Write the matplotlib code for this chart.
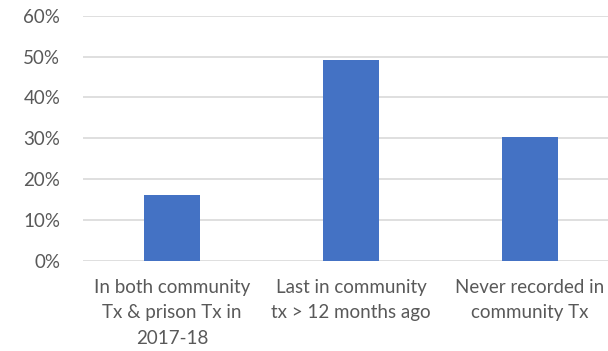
import matplotlib

matplotlib.use("Agg")
import matplotlib.pyplot as plt
from matplotlib.ticker import PercentFormatter

categories = [
    "In both community\nTx & prison Tx in\n2017-18",
    "Last in community\ntx > 12 months ago",
    "Never recorded in\ncommunity Tx",
]
shares = [16.1, 49.1, 30.3]
y_ticks = [0, 10, 20, 30, 40, 50, 60]

BAR_COLOR = "#4472C4"
GRID_COLOR = "#D9D9D9"
TEXT_COLOR = "#595959"

plt.rcParams["font.family"] = ["Lato", "DejaVu Sans"]

fig = plt.figure(figsize=(6.08, 3.51), dpi=100)
# 右侧绘图区超出画布，与原图的裁切保持一致
ax = fig.add_axes([0.1357, 0.2564, 0.883, 0.699])

positions = range(len(categories))
ax.bar(positions, shares, width=0.31, color=BAR_COLOR, zorder=3)

ax.set_xlim(-0.5, len(categories) - 0.5)
ax.set_ylim(0, 60)
ax.set_yticks(y_ticks)
ax.yaxis.set_major_formatter(PercentFormatter(decimals=0))
ax.set_xticks(list(positions))
ax.set_xticklabels(categories, linespacing=1.6)

ax.grid(axis="y", color=GRID_COLOR, linewidth=1.2, zorder=0)
ax.set_axisbelow(True)
for spine in ax.spines.values():
    spine.set_visible(False)

ax.tick_params(axis="y", length=0, pad=16, labelsize=13.5, labelcolor=TEXT_COLOR)
ax.tick_params(axis="x", length=0, pad=13, labelsize=13.5, labelcolor=TEXT_COLOR)

fig.savefig("out.png", dpi=100)
